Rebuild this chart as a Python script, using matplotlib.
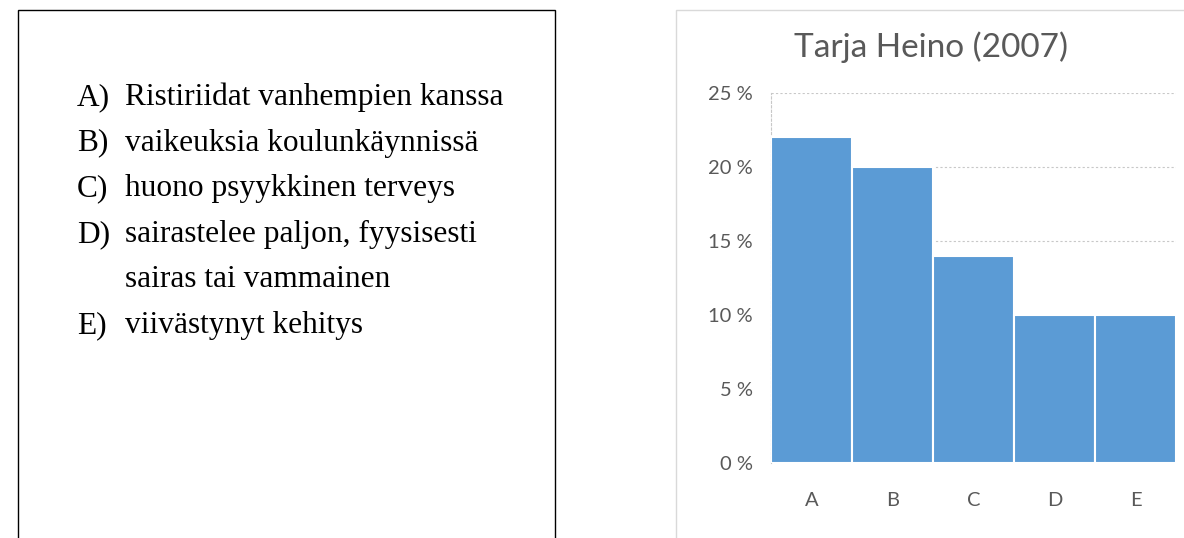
import matplotlib
matplotlib.use("Agg")
import matplotlib.pyplot as plt
from matplotlib.patches import Rectangle

categories = ["A", "B", "C", "D", "E"]
values = [22, 20, 14, 10, 10]
yticks = [0, 5, 10, 15, 20, 25]
ytick_labels = ["0 %", "5 %", "10 %", "15 %", "20 %", "25 %"]
title = "Tarja Heino (2007)"
legend_lines = [
    ("A)", "Ristiriidat vanhempien kanssa"),
    ("B)", "vaikeuksia koulunkäynnissä"),
    ("C)", "huono psyykkinen terveys"),
    ("D)", "sairastelee paljon, fyysisesti"),
    ("", "sairas tai vammainen"),
    ("E)", "viivästynyt kehitys"),
]

W, H = 1184, 538
fig = plt.figure(figsize=(W / 100, H / 100), dpi=100)

def fx(px):
    return px / W

def fy(py):
    return 1 - py / H

# left text box
fig.patches.append(Rectangle((fx(18), fy(560)), fx(555) - fx(18), fy(10) - fy(560),
                             transform=fig.transFigure, fill=False, ec="black", lw=1.0))
serif = ["Liberation Serif", "DejaVu Serif"]
y0 = 105
step = 45.6
for i, (lab, txt) in enumerate(legend_lines):
    yy = fy(y0 + i * step)
    if lab:
        fig.text(fx(77), yy, lab, family=serif, fontsize=22.6, color="black", va="baseline")
    fig.text(fx(125), yy, txt, family=serif, fontsize=22.6, color="black", va="baseline")

# chart frame
fig.patches.append(Rectangle((fx(676), fy(560)), fx(1200) - fx(676), fy(10) - fy(560),
                             transform=fig.transFigure, fill=False, ec="#d9d9d9", lw=1.0))

fig.text(fx(931), fy(47), title, family=["Lato", "DejaVu Sans"], fontsize=24,
         color="#595959", ha="center", va="center")

ax = fig.add_axes([fx(771), fy(463), fx(1176) - fx(771), fy(93) - fy(463)])
x = list(range(len(categories)))
ax.bar(x, values, width=1.0, color="#5B9BD5", edgecolor="white", linewidth=1.5, zorder=3)
ax.set_xlim(-0.5, 4.5)
ax.set_ylim(0, 25)
ax.set_yticks(yticks)
ax.set_yticklabels(ytick_labels)
ax.set_xticks(x)
ax.set_xticklabels(categories)
ax.tick_params(axis="both", length=0, labelsize=14.5, labelcolor="#595959")
ax.tick_params(axis="y", pad=13)
ax.tick_params(axis="x", pad=21)
for lab in ax.get_xticklabels() + ax.get_yticklabels():
    lab.set_family(["Lato", "DejaVu Sans"])
ax.yaxis.grid(True, color="#c8c8c8", linestyle=(0, (2, 2)), linewidth=0.8, zorder=0)
for s in ["top", "right", "bottom"]:
    ax.spines[s].set_visible(False)
ax.spines["left"].set_color("#c8c8c8")
ax.spines["left"].set_linestyle((0, (2, 2)))
ax.spines["left"].set_linewidth(0.8)
ax.set_facecolor("white")

fig.savefig("out.png", dpi=100, facecolor="white")
